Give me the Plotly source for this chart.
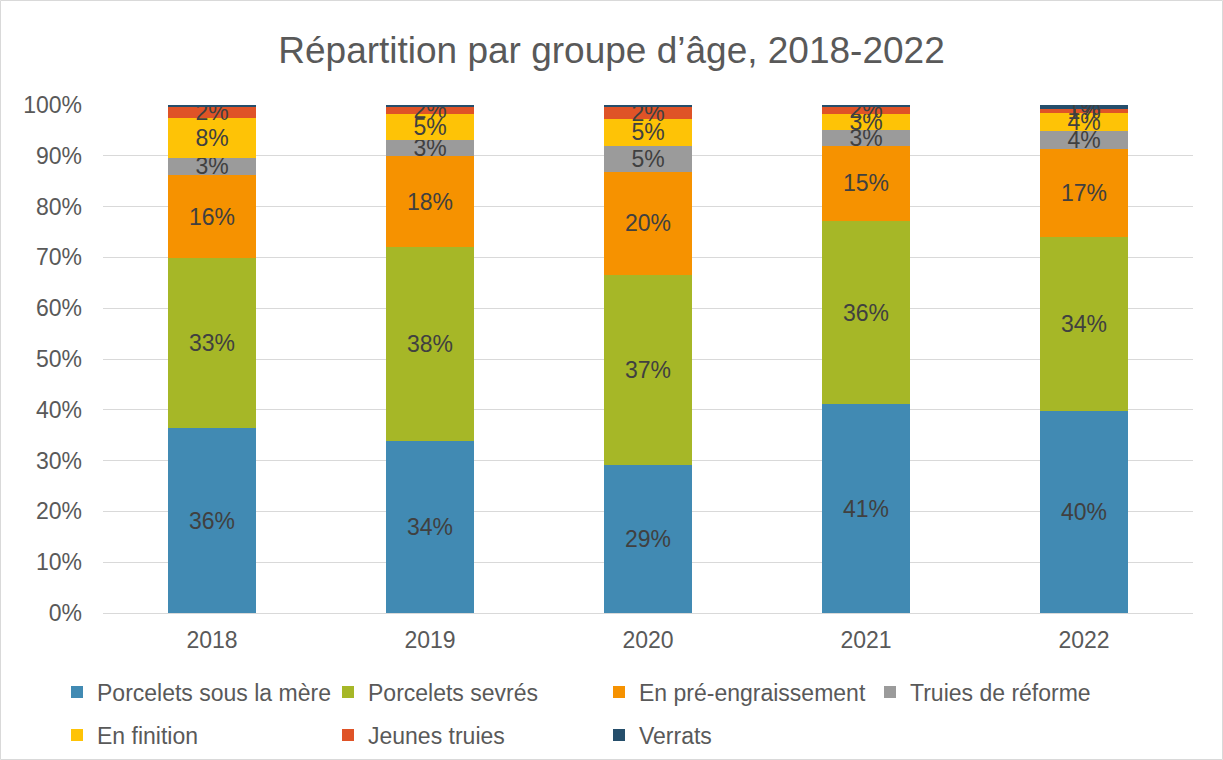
import plotly.graph_objects as go

years = ["2018", "2019", "2020", "2021", "2022"]

# shares per age group (fraction of total)
porcelets_mere = [0.364, 0.339, 0.291, 0.411, 0.398]
porcelets_sevres = [0.334, 0.381, 0.374, 0.361, 0.342]
pre_engraissement = [0.164, 0.180, 0.204, 0.148, 0.173]
truies_reforme = [0.034, 0.031, 0.050, 0.031, 0.035]
en_finition = [0.078, 0.051, 0.054, 0.031, 0.037]
jeunes_truies = [0.023, 0.016, 0.024, 0.016, 0.008]
verrats = [0.003, 0.002, 0.003, 0.002, 0.007]

series = [
    ("Porcelets sous la mère", porcelets_mere, "#418AB3", "legend"),
    ("Porcelets sevrés", porcelets_sevres, "#A6B727", "legend"),
    ("En pré-engraissement", pre_engraissement, "#F69200", "legend"),
    ("Truies de réforme", truies_reforme, "#9B9B9B", "legend"),
    ("En finition", en_finition, "#FEC306", "legend2"),
    ("Jeunes truies", jeunes_truies, "#DF5327", "legend2"),
    ("Verrats", verrats, "#254E6B", "legend2"),
]

fig = go.Figure()
for name, vals, col, leg in series:
    # hide labels that would round to 0%
    labels = [f"{round(v * 100):.0f}%" if round(v * 100) >= 1 else "" for v in vals]
    fig.add_trace(go.Bar(
        x=years, y=vals, name=name, legend=leg,
        marker=dict(color=col, line=dict(width=0)),
        text=labels, textposition="inside", insidetextanchor="middle",
        textangle=0, constraintext="none",
        textfont=dict(size=23, color="#404040"),
    ))

ml, mr, mt, mb = 103, 30, 105, 147
pw, ph = 1223 - ml - mr, 760 - mt - mb

legend_style = dict(orientation="h", x=(57 - ml) / pw, xanchor="left", yanchor="middle",
                    font=dict(size=23, color="#595959"), entrywidth=226,
                    itemwidth=30, traceorder="normal", bgcolor="rgba(0,0,0,0)")

fig.update_layout(
    barmode="stack",
    bargap=0.6,
    width=1223,
    height=760,
    paper_bgcolor="white",
    plot_bgcolor="white",
    font=dict(family="Liberation Sans, Arial, sans-serif", color="#595959"),
    title=dict(text="Répartition par groupe d’âge, 2018-2022", x=0.5, xanchor="center",
               y=1 - 50 / 760, yanchor="middle", font=dict(size=37, color="#595959")),
    margin=dict(l=ml, r=mr, t=mt, b=mb, autoexpand=False),
    legend=dict(legend_style, y=-79 / ph),
    legend2=dict(legend_style, y=-122 / ph),
    showlegend=True,
    shapes=[dict(type="rect", xref="paper", yref="paper",
                 x0=-(ml - 0.5) / pw, x1=1 + (mr - 0.5) / pw,
                 y0=-(mb - 0.5) / ph, y1=1 + (mt - 0.5) / ph,
                 line=dict(color="#D9D9D9", width=1), fillcolor="rgba(0,0,0,0)")],
)
fig.update_yaxes(range=[0, 1], dtick=0.1, tickformat=".0%", gridcolor="#D9D9D9",
                 gridwidth=1, zeroline=False, showline=False, ticklabelstandoff=20,
                 tickfont=dict(size=23, color="#595959"), ticks="")
fig.update_xaxes(showline=True, linecolor="#D9D9D9", linewidth=1, ticklabelstandoff=6,
                 tickfont=dict(size=23, color="#595959"), ticks="")

fig.write_html("out.html", config={"displayModeBar": False},
               post_script="document.body.style.margin='0';")
